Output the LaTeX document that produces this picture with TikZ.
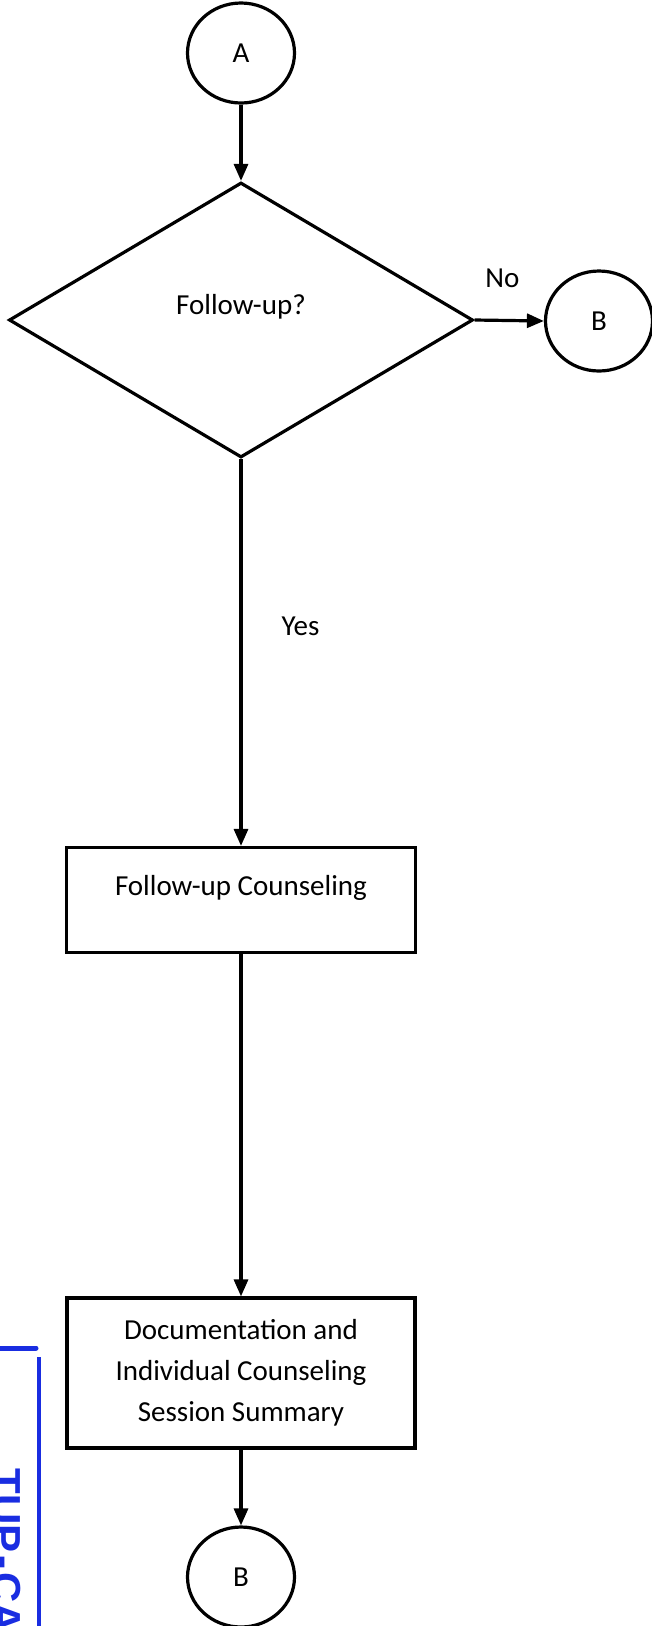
\documentclass[tikz,border=0pt]{standalone}
\usepackage{fontspec}
\setmainfont{Carlito}
\newfontfamily\stampfont{Liberation Sans}
\usetikzlibrary{shapes.geometric,arrows.meta}
\definecolor{stampblue}{RGB}{25,45,225}
\begin{document}
\begin{tikzpicture}[x=1pt,y=-1pt,
  line width=3.2pt,
  conn/.style={-{Triangle[length=17pt,width=14pt]}},
  connector/.style={ellipse,draw,minimum width=107pt,minimum height=100pt,
    inner sep=0pt,font=\fontsize{29}{34}\selectfont},
  decision/.style={diamond,draw,minimum width=464pt,minimum height=275pt,inner sep=0pt},
  process/.style={rectangle,draw,inner sep=0pt,align=center,
    font=\fontsize{29}{41}\selectfont},
  lbl/.style={font=\fontsize{29}{35}\selectfont,inner sep=0pt}]

\useasboundingbox (0,0) rectangle (652,1626);

% flowchart nodes
\node[connector] (A) at (241,53) {A};
\node[decision, label={[lbl,yshift=13pt]center:Follow-up?}] (d) at (241,320) {};
\node[connector] (B1) at (599,321) {B};
\node[process, minimum width=349pt, minimum height=105pt,
      label={[lbl,yshift=12pt]center:Follow-up Counseling}] (fc) at (241,900) {};
\node[process, minimum width=348pt, minimum height=150pt] (doc) at (241,1373)
  {Documentation and\\Individual Counseling\\Session Summary};
\node[connector] (B2) at (241,1577) {B};

% connectors
\draw[conn] (A) -- (d);
\draw[conn] (d.east) -- node[lbl,pos=0.4,anchor=south,yshift=31pt] {No} (B1.west);
\draw[conn] (d.south) -- node[lbl,pos=0.433,anchor=west,xshift=39pt] {Yes} (fc.north);
\draw[conn] (fc) -- (doc);
\draw[conn] (doc) -- (B2);

% receiving stamp at the left margin
\draw[stampblue, line width=5pt, line cap=round] (0,1348) -- (36,1348);
\draw[stampblue, line width=4pt] (39,1357) -- (39,1626);
\node[stampblue, rotate=-90, anchor=north west, inner sep=0pt,
      font=\stampfont\bfseries\fontsize{42}{42}\selectfont] (stamp)
  at (22,1467) {\spaceskip=3pt\relax TUP - CAV};
\end{tikzpicture}
\end{document}
